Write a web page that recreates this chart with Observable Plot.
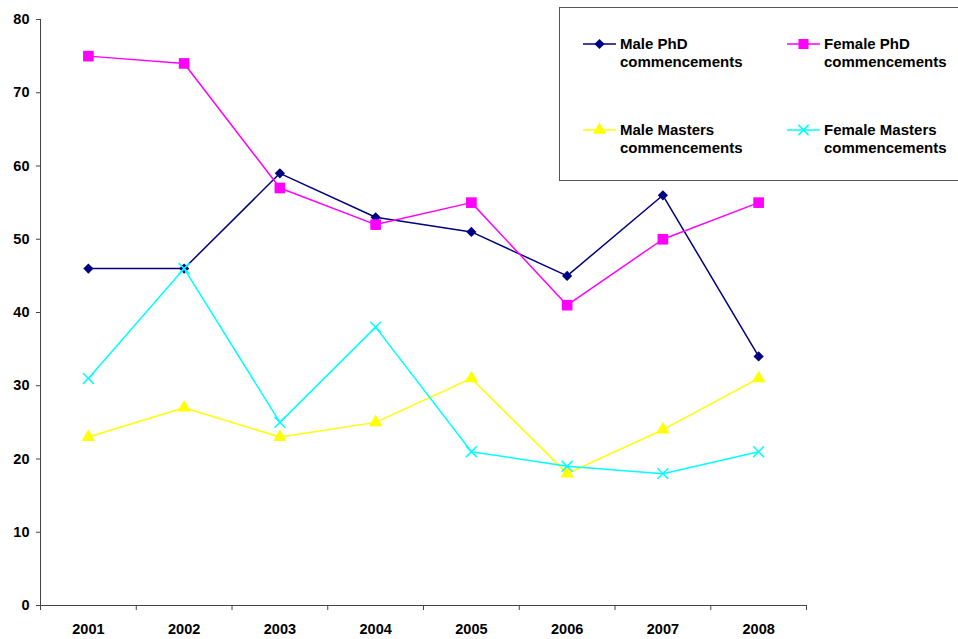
<!DOCTYPE html>
<html>
<head>
<meta charset="utf-8">
<script src="https://cdn.jsdelivr.net/npm/d3@7"></script>
<script src="https://cdn.jsdelivr.net/npm/@observablehq/plot@0.6"></script>
<style>
  body { margin: 0; background: #fff; }
  #wrap { position: relative; width: 958px; height: 639px; font-family: "Liberation Sans", Arial, sans-serif; }
  #legend { position: absolute; left: 559px; top: 7px; width: 410px; height: 174px; border: 1px solid #555; box-sizing: border-box; background: #fff; }
  .item { position: absolute; display: flex; align-items: flex-start; font-weight: bold; font-size: 15px; line-height: 18px; color: #000; }
  .item svg { margin-top: 1px; margin-right: 4px; }
</style>
</head>
<body>
<div id="wrap"><div id="chart"></div><div id="legend"></div></div>
<script>
const years = [2001, 2002, 2003, 2004, 2005, 2006, 2007, 2008];
const malePhD = [46, 46, 59, 53, 51, 45, 56, 34];
const femalePhD = [75, 74, 57, 52, 55, 41, 50, 55];
const maleMasters = [23, 27, 23, 25, 31, 18, 24, 31];
const femaleMasters = [31, 46, 25, 38, 21, 19, 18, 21];
const seriesNames = ["Male PhD commencements", "Female PhD commencements", "Male Masters commencements", "Female Masters commencements"];
const yTicks = [0, 10, 20, 30, 40, 50, 60, 70, 80];

const seriesValues = [malePhD, femalePhD, maleMasters, femaleMasters];
const styles = [
  {color: "#000080", symbol: "diamond2", r: 4.6, filled: true},
  {color: "#FF00FF", symbol: "square", r: 6, filled: true},
  {color: "#FFFF00", symbol: "triangle", r: 5, filled: true},
  {color: "#00FFFF", symbol: "times", r: 5, filled: false}
];

const marks = [
  Plot.axisY({ticks: yTicks, tickSize: 4, tickPadding: 7, label: null, stroke: "#444", fill: "#000", tickFormat: d => String(d)}),
  Plot.axisX({ticks: years, tickSize: 0, tickPadding: 18, label: null, fill: "#000", tickFormat: d => String(d)}),
  Plot.axisX({ticks: d3.range(2000.5, 2009, 1), tickSize: 5, label: null, stroke: "#444", tickFormat: () => ""}),
  Plot.ruleX([2000.5], {stroke: "#444"}),
  Plot.ruleY([0], {stroke: "#444"})
];

seriesValues.forEach((vals, i) => {
  const s = styles[i];
  const data = years.map((y, j) => ({year: y, value: vals[j]}));
  marks.push(Plot.line(data, {x: "year", y: "value", stroke: s.color, strokeWidth: 1.5}));
  if (s.filled) {
    marks.push(Plot.dot(data, {x: "year", y: "value", symbol: s.symbol, r: s.r, fill: s.color, stroke: "none"}));
  } else {
    marks.push(Plot.dot(data, {x: "year", y: "value", symbol: s.symbol, r: s.r, stroke: s.color, strokeWidth: 1.5, fill: "none"}));
  }
});

const chart = Plot.plot({
  width: 958,
  height: 639,
  marginLeft: 40,
  marginRight: 152,
  marginTop: 19,
  marginBottom: 34,
  x: {type: "linear", domain: [2000.5, 2008.5]},
  y: {domain: [0, 80]},
  style: {fontFamily: "'Liberation Sans', Arial, sans-serif", fontSize: "14.5px", fontWeight: "bold", background: "#fff", overflow: "visible"},
  marks
});
document.getElementById("chart").appendChild(chart);

// Legend
const legend = document.getElementById("legend");
const pos = [[23, 27], [227, 27], [23, 113], [227, 113]];
const symPaths = {
  diamond2: d3.symbol(d3.symbolDiamond2, 66)(),
  square: d3.symbol(d3.symbolSquare, 100)(),
  triangle: d3.symbol(d3.symbolTriangle, 75)(),
  times: d3.symbol(d3.symbolTimes, 70)()
};
seriesNames.forEach((name, i) => {
  const s = styles[i];
  const words = name.split(" ");
  const line1 = words.slice(0, -1).join(" ");
  const line2 = words[words.length - 1];
  const div = document.createElement("div");
  div.className = "item";
  div.style.left = pos[i][0] + "px";
  div.style.top = pos[i][1] + "px";
  const fillAttr = s.filled ? `fill="${s.color}"` : `fill="none" stroke="${s.color}" stroke-width="1.5"`;
  div.innerHTML = `<svg width="33" height="16"><line x1="0" x2="33" y1="8" y2="8" stroke="${s.color}" stroke-width="1.5"/><path transform="translate(16.5,8)" d="${symPaths[s.symbol]}" ${fillAttr}/></svg><div>${line1}<br>${line2}</div>`;
  legend.appendChild(div);
});
</script>
</body>
</html>
